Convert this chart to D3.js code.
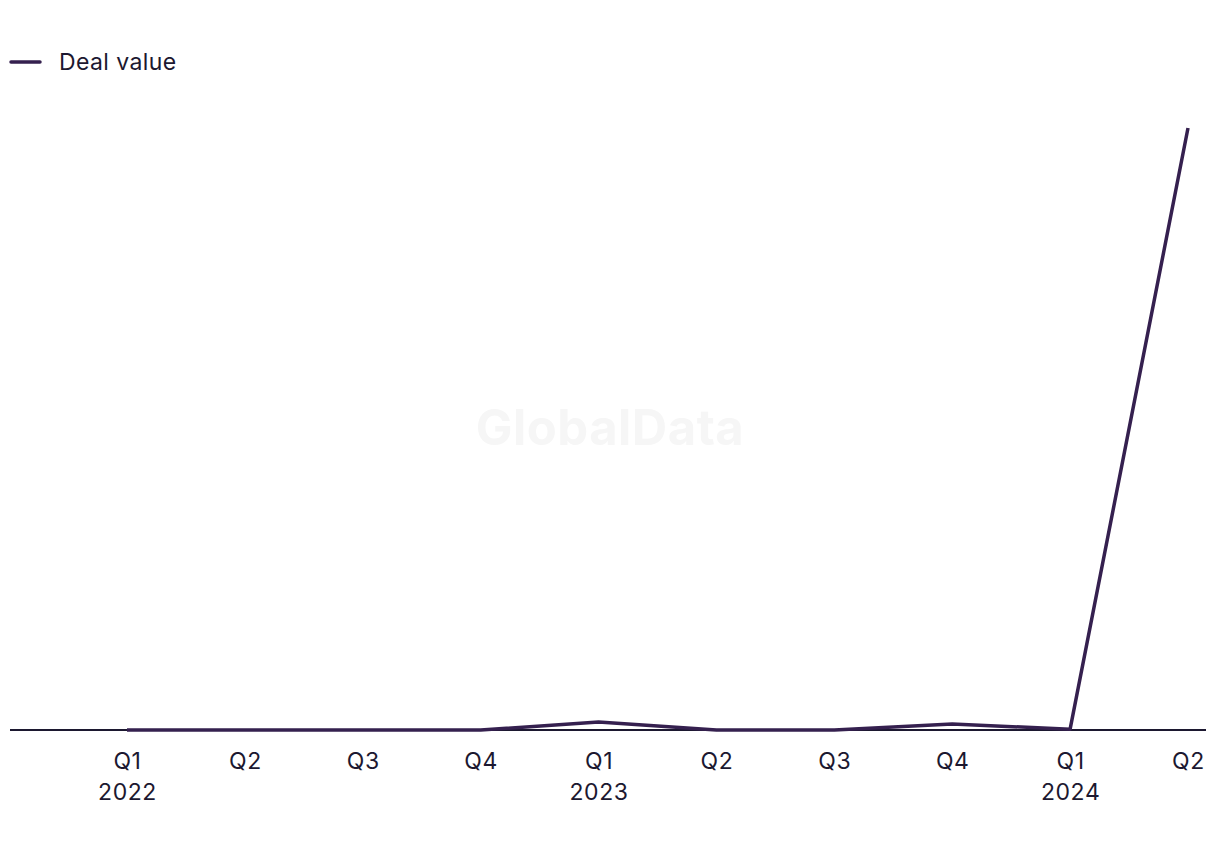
<!DOCTYPE html>
<html>
<head>
<meta charset="utf-8">
<script src="https://cdn.jsdelivr.net/npm/d3@7"></script>
<style>
  body { margin: 0; background: #fff; }
  text { font-family: Inter, "Noto Sans", sans-serif; }
</style>
</head>
<body>
<div id="chart"></div>
<script>
// quarters and deal value ($m)
var quarters = ["Q1", "Q2", "Q3", "Q4", "Q1", "Q2", "Q3", "Q4", "Q1", "Q2"];
var years = ["2022", "", "", "", "2023", "", "", "", "2024", ""];
var dealValue = [0, 0, 0, 0, 100, 0, 0, 75, 10, 7500];

var width = 1220, height = 850;
var svg = d3.select("#chart").append("svg")
    .attr("width", width)
    .attr("height", height);

// watermark
svg.append("text")
    .attr("x", 610)
    .attr("y", 445)
    .attr("text-anchor", "middle")
    .style("font-size", "49px")
    .style("font-weight", "bold")
    .style("letter-spacing", "0.5px")
    .style("fill", "#f6f6f6")
    .text("GlobalData");

var idx = d3.range(quarters.length);
var x = d3.scalePoint()
    .domain(idx)
    .range([127, 1188]);

var y = d3.scaleLinear()
    .domain([0, d3.max(dealValue)])
    .range([730, 128]);

// baseline
svg.append("line")
    .attr("x1", 10)
    .attr("x2", 1206)
    .attr("y1", y(0))
    .attr("y2", y(0))
    .style("stroke", "#1c1830")
    .style("stroke-width", 2);

// x axis labels
var xAxis = d3.axisBottom(x)
    .tickSize(0)
    .tickPadding(23)
    .tickFormat(function(i) { return quarters[i]; });

var gx = svg.append("g")
    .attr("transform", "translate(0," + y(0) + ")")
    .call(xAxis);
gx.select(".domain").remove();
gx.selectAll("text")
    .style("font-size", "23px")
    .style("letter-spacing", "0.6px")
    .style("fill", "#1c1830")
    .style("font-family", "Inter, 'Noto Sans', sans-serif");
gx.selectAll(".tick").append("text")
    .attr("y", 70)
    .attr("text-anchor", "middle")
    .style("font-size", "23px")
    .style("letter-spacing", "0.6px")
    .style("fill", "#1c1830")
    .text(function(i) { return years[i]; });

// deal value line
var line = d3.line()
    .x(function(d, i) { return x(i); })
    .y(function(d) { return y(d); });

svg.append("path")
    .datum(dealValue)
    .attr("d", line)
    .style("fill", "none")
    .style("stroke", "#35204f")
    .style("stroke-width", 3.5)
    .style("stroke-linejoin", "round");

// legend
var legend = svg.append("g");
legend.append("line")
    .attr("x1", 11).attr("x2", 40)
    .attr("y1", 62).attr("y2", 62)
    .style("stroke", "#35204f")
    .style("stroke-width", 3.5)
    .style("stroke-linecap", "round");
legend.append("text")
    .attr("x", 59)
    .attr("y", 70)
    .style("font-size", "23px")
    .style("letter-spacing", "0.4px")
    .style("fill", "#1c1830")
    .text("Deal value");
</script>
</body>
</html>
